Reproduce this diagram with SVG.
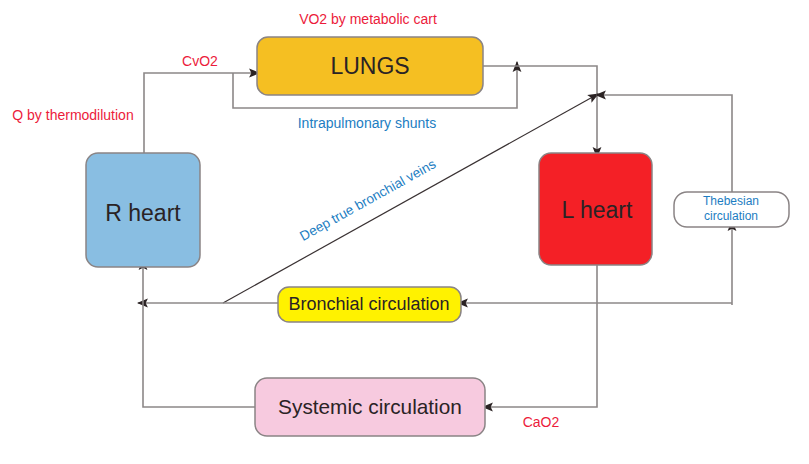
<svg xmlns="http://www.w3.org/2000/svg" width="809" height="464" viewBox="0 0 809 464">
<style>
.box{stroke:#8a8485;stroke-width:1.5}
.ln{fill:none;stroke:#8c8888;stroke-width:1.6}
.dg{fill:none;stroke:#3a3233;stroke-width:1.2}
.t{font-family:"Liberation Sans",Arial,sans-serif;fill:#2a2325;text-anchor:middle}
.red{font-family:"Liberation Sans",Arial,sans-serif;fill:#ec1b3b;font-size:14px;text-anchor:middle}
.blue{font-family:"Liberation Sans",Arial,sans-serif;fill:#1c7dc2;text-anchor:middle}
</style>
<defs>
<marker id="ah" markerUnits="userSpaceOnUse" markerWidth="11" markerHeight="10" viewBox="0 0 10 8" refX="9" refY="4" orient="auto">
<path d="M0,0 L10,4 L0,8 L2,4 z" fill="#2b2324"/>
</marker>
</defs>
<rect width="809" height="464" fill="#ffffff"/>
<g id="connectors">
<path class="ln" d="M144,153 V73 H259" marker-end="url(#ah)"/>
<path class="ln" d="M233,73 V108 H517 V62" marker-end="url(#ah)"/>
<path class="ln" d="M483,66 H597 V157" marker-end="url(#ah)"/>
<path class="dg" d="M223,303 L598,94" marker-end="url(#ah)"/>
<path class="ln" d="M732,192 V95 H596" marker-end="url(#ah)"/>
<path class="ln" d="M597,265 V407 H483" marker-end="url(#ah)"/>
<path class="ln" d="M732,305 V221" marker-end="url(#ah)"/>
<path class="ln" d="M732,303 H458" marker-end="url(#ah)"/>
<path class="ln" d="M278,303 H138" marker-end="url(#ah)"/>
<path class="ln" d="M255,407 H143 V260" marker-end="url(#ah)"/>
</g>
<g id="lungs">
<rect class="box" x="257" y="37" width="226" height="58" rx="11" fill="#f5bf22"/>
<text class="t" x="370" y="74" font-size="23">LUNGS</text>
</g>
<g id="rheart">
<rect class="box" x="86" y="153" width="114" height="114" rx="12" fill="#89bee2"/>
<text class="t" x="143" y="221" font-size="23">R heart</text>
</g>
<g id="lheart">
<rect class="box" x="539" y="153" width="113" height="112" rx="12" fill="#f42026"/>
<text class="t" x="597" y="218" font-size="23">L heart</text>
</g>
<g id="thebesian">
<rect class="box" x="674" y="192" width="115" height="35" rx="13" fill="#ffffff"/>
<text class="blue" x="731" y="205" font-size="12">Thebesian</text>
<text class="blue" x="731" y="220" font-size="12">circulation</text>
</g>
<g id="bronchial">
<rect class="box" x="278" y="287" width="183" height="35" rx="11" fill="#fff200"/>
<text class="t" x="369" y="310" font-size="18">Bronchial circulation</text>
</g>
<g id="systemic">
<rect class="box" x="255" y="378" width="230" height="58" rx="12" fill="#f7cadf"/>
<text class="t" x="370" y="414" font-size="20.8">Systemic circulation</text>
</g>
<g id="labels">
<text class="red" x="368" y="24">VO2 by metabolic cart</text>
<text class="red" x="200" y="66">CvO2</text>
<text class="red" x="73" y="120">Q by thermodilution</text>
<text class="red" x="541" y="427">CaO2</text>
<text class="blue" x="367" y="128" font-size="14">Intrapulmonary shunts</text>
<text class="blue" x="0" y="0" font-size="13.5" transform="translate(370,204) rotate(-29.1)">Deep true bronchial veins</text>
</g>
</svg>
